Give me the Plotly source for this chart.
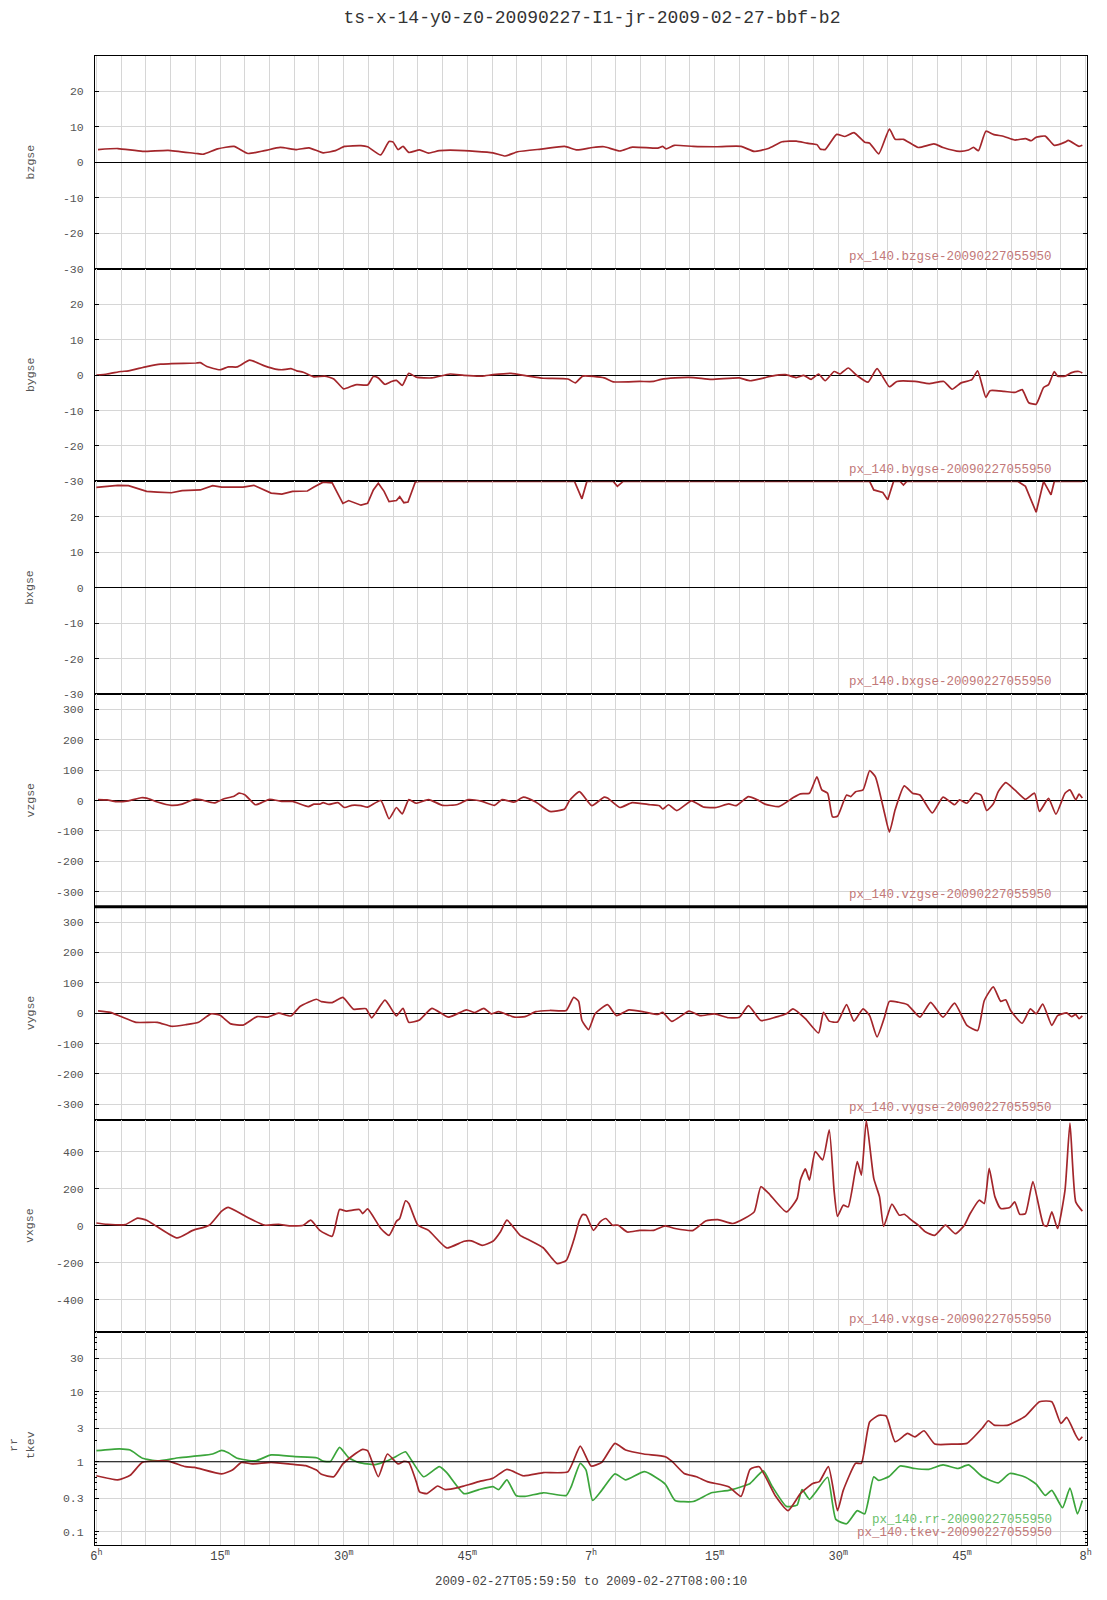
import pandas as pd
import plotly.graph_objects as go
from plotly.subplots import make_subplots

BASE = pd.Timestamp("2009-02-27 06:00:00")
X_START = "2009-02-27 05:59:50"
X_END = "2009-02-27 08:00:10"

# ---- data: time in minutes after 06:00 UT ----
bz_t = [0.2,2.6,5.6,8.7,12.1,13.0,14.7,16.7,18.4,20.4,22.3,24.3,25.8,27.5,29.0,30.1,32.1,32.9,34.5,35.5,
        36.0,36.6,37.2,37.9,39.2,40.3,41.6,43.8,48.1,49.6,51.1,54.2,
        56.8,58.3,60.2,61.6,63.5,65.0,68.1,68.7,69.1,70.1,72.4,75.0,78.2,79.8,81.5,83.2,84.9,86.2,87.4,87.8,
        88.4,89.8,90.8,91.9,93.2,93.8,94.9,96.2,96.9,97.9,99.7,101.6,102.7,104.7,105.8,106.4,107.0,107.9,108.8,110.1,
        111.4,112.7,113.4,114.0,115.1,116.2,117.5,117.9,119.2,119.6]
bz_v = [3.6,3.9,3.1,3.4,2.5,2.3,3.8,4.5,2.5,3.3,4.2,3.6,4.1,2.7,3.3,4.5,4.7,4.4,2.1,5.9,
        5.7,3.6,4.5,2.8,3.5,2.6,3.3,3.4,2.7,1.8,3.0,3.8,
        4.5,3.5,4.2,4.4,3.2,4.3,4.0,4.5,3.8,4.8,4.5,4.4,4.5,3.1,3.9,5.8,6.0,5.4,5.0,3.8,
        3.6,7.9,7.3,8.4,5.7,5.4,2.4,9.4,6.5,6.5,4.2,5.2,4.2,3.1,3.5,4.2,3.3,8.8,7.9,7.3,
        6.3,6.7,6.1,7.1,7.4,4.8,5.7,6.2,4.5,4.8]

by_t = [0,1.3,3.0,3.9,6.1,7.8,9.1,12.1,12.6,13.4,15.0,16.0,17.1,18.6,20.4,21.7,22.5,23.6,24.3,25.1,
        26.4,27.7,28.8,30.0,31.0,31.6,32.9,33.6,34.2,35.0,35.8,36.4,37.1,37.9,38.8,40.7,42.9,44.6,46.8,48.1,
        50.3,52.4,54.2,
        57.2,58.1,59.0,61.6,62.7,65.9,67.6,68.5,70.2,72.4,74.6,78.0,79.3,81.0,81.9,83.6,84.9,85.8,86.7,87.6,
        88.4,89.5,90.2,91.2,92.3,93.6,94.7,96.2,97.1,99.3,101.0,102.8,103.8,104.9,106.2,106.9,107.9,108.4,110.1,111.4,
        112.3,113.1,114.0,114.9,115.5,116.2,116.6,117.5,118.3,119.2,119.6]
by_v = [0,0.3,1.0,1.2,2.4,3.1,3.2,3.4,3.5,2.4,1.5,2.3,2.3,4.2,2.6,1.7,1.5,1.8,1.2,0.8,
        -0.5,-0.3,-1.1,-3.9,-3.1,-2.7,-2.8,-0.4,-0.8,-2.6,-1.8,-1.5,-2.9,0.5,-0.6,-0.8,0.3,-0.1,-0.3,0.1,
        0.5,-0.3,-0.9,
        -1.1,-2.2,-0.3,-0.8,-1.9,-1.8,-1.8,-1.2,-0.8,-0.7,-1.2,-0.8,-1.6,-0.8,-0.3,0.1,-0.7,-0.1,-1.2,0.3,
        -1.6,1.0,0.3,2.0,-0.2,-2.0,1.8,-3.3,-1.8,-1.8,-2.4,-1.8,-4.0,-2.2,-1.3,1.2,-6.3,-4.4,-4.6,-4.9,
        -4.1,-7.8,-8.2,-3.5,-2.7,1.0,-0.3,-0.3,0.7,1.0,0.6]

bx_t = [0,1.3,2.6,3.9,6.1,7.4,9.1,10.4,12.6,14.1,15.2,17.8,19.1,21.2,22.5,23.8,25.6,26.4,27.5,28.6,
        29.3,29.9,30.6,32.1,32.9,33.6,34.2,34.9,35.5,36.4,36.8,37.3,37.8,38.7,39.2,
        58.0,58.9,59.5,62.7,63.2,63.9,93.8,94.3,95.4,96.0,96.7,97.5,97.9,98.3,
        111.8,112.7,114.0,114.9,115.8,116.2,119.6]
bx_v = [28.3,28.6,28.9,28.8,27.2,27.0,26.8,27.4,27.6,28.8,28.4,28.4,28.9,26.7,26.4,27.2,27.3,28.4,29.8,29.6,
        26.7,23.8,24.6,23.3,23.8,27.6,29.5,27.2,24.3,24.6,25.7,24.0,24.2,29.9,30,
        30,25.1,30,30,28.6,30,30,27.6,26.9,24.8,30,30,29.0,30,
        30,28.6,21.3,30,26.2,30,30]

vz_t = [0.2,1.3,2.4,3.9,5.4,6.1,7.4,9.1,10.4,11.9,12.6,14.3,15.4,16.7,17.3,18.0,19.3,20.2,21.0,22.5,
        23.8,25.7,26.4,27.1,27.5,28.2,29.3,30.1,31.0,32.1,32.9,34.5,35.5,36.4,37.1,37.9,38.8,40.3,42.0,43.8,
        45.1,46.8,48.3,49.2,50.7,51.8,53.3,55.0,56.8,57.4,58.6,60.1,61.6,62.0,63.5,65.0,67.2,68.3,68.7,69.4,
        70.4,72.2,73.7,75.2,76.7,77.6,79.1,80.2,81.1,82.8,84.5,85.4,86.5,87.4,88.0,88.7,89.3,89.9,91.0,91.5,
        92.1,93.0,93.8,94.5,95.6,96.2,96.9,98.0,99.0,99.9,101.4,102.7,104.1,104.7,105.6,106.6,107.3,108.0,108.8,109.4,
        110.3,111.4,112.7,113.8,114.4,115.5,116.4,117.5,118.1,118.8,119.2,119.6]
vz_v = [3,2,-4,-1,9,8,-5,-16,-12,4,3,-8,5,14,24,19,-14,-5,4,-3,
        -3,-20,-12,-12,-7,-13,-7,-23,-16,-17,-22,0,-60,-23,-44,3,-9,3,-16,-13,
        3,-3,-16,3,-5,11,-5,-36,-28,0,29,-17,11,8,-23,-7,-14,-17,-28,-14,
        -33,-1,-22,-23,-11,-17,13,2,-12,-20,9,22,24,78,35,24,-54,-52,18,13,
        29,35,98,78,-41,-104,-30,48,24,18,-41,11,-14,2,-9,24,18,-33,-11,29,
        59,35,4,24,-36,7,-45,24,35,2,21,8]

vy_t = [0.2,1.7,3.0,4.8,7.4,9.1,10.8,12.4,13.9,15.0,16.3,17.8,19.5,20.8,22.1,23.6,24.7,26.7,27.3,28.6,
        29.9,31.2,32.7,33.4,35.0,36.0,36.4,37.2,37.9,39.2,40.7,42.7,44.9,45.9,47.0,47.9,48.8,50.7,52.0,53.3,
        55.0,
        57.0,57.9,58.5,58.9,59.7,60.5,62.0,63.1,64.6,66.5,68.1,68.7,69.8,71.9,73.2,75.0,76.7,78.0,79.1,80.6,
        82.4,83.7,84.5,86.0,87.6,88.2,88.9,89.9,91.0,91.9,93.0,93.8,94.7,95.6,96.2,97.3,98.4,99.9,101.2,102.7,
        104.1,105.6,106.9,107.7,108.8,109.7,110.3,110.9,112.3,113.3,114.0,114.8,115.9,116.6,117.7,118.3,118.8,119.2,119.6]
vy_v = [8,3,-11,-30,-30,-43,-38,-30,-2,-7,-35,-39,-11,-13,0,-9,22,46,38,35,
        52,13,15,-15,43,5,-9,16,-30,-22,16,-13,11,2,16,-2,5,-13,-11,5,
        9,
        9,52,39,-24,-54,-2,28,-8,11,4,-4,3,-27,7,-8,-2,-15,-13,25,-24,
        -13,-2,14,-18,-65,3,-26,-29,28,-26,14,-8,-78,-13,39,36,28,-13,36,-13,
        33,-40,-57,41,87,39,44,9,-33,14,-2,30,-40,-8,1,-11,-4,-18,-9]

vx_t = [0,1.3,3.5,5.0,6.1,7.4,9.8,11.7,13.7,15.2,16.0,18.2,20.4,22.1,23.4,25.1,26.0,27.1,28.6,29.5,
        30.3,31.9,32.3,32.9,34.5,35.5,36.4,36.8,37.5,37.9,39.0,40.3,42.5,44.6,45.5,46.8,48.1,49.0,49.8,51.4,
        52.4,54.2,55.3,55.9,57.0,
        57.9,58.6,59.0,59.4,60.3,61.1,61.8,62.6,63.3,64.4,65.9,67.6,69.0,70.2,72.4,73.9,75.4,77.2,78.6,79.8,
        80.6,81.5,83.7,85.0,85.4,86.0,86.5,87.2,88.1,88.9,89.5,89.9,90.6,91.2,92.3,92.8,93.4,94.3,95.0,95.5,
        96.5,97.4,98.0,98.8,99.7,100.6,101.7,103.0,104.2,105.3,106.0,107.1,107.7,108.3,109.0,109.7,110.8,111.4,112.0,112.7,
        113.6,114.9,115.3,115.9,116.6,117.5,118.1,118.8,119.6]
vx_v = [16,9,7,42,31,-5,-65,-24,4,80,100,49,4,9,0,4,31,-24,-56,89,
        80,89,67,92,-14,-51,25,40,136,121,4,-24,-119,-83,-81,-105,-83,-33,31,-51,
        -74,-118,-177,-204,-186,
        -78,31,62,58,-24,22,40,4,4,-33,-24,-24,0,-14,-24,27,34,13,40,76,
        212,179,76,148,248,308,248,402,357,519,185,52,112,103,348,275,570,257,157,-2,
        118,58,63,34,4,-33,-51,4,-42,4,67,139,121,311,157,94,100,130,63,67,
        239,4,-2,76,-14,194,556,130,80]

tkev_t = [0,2.6,4.1,5.6,8.7,10.8,11.9,15.2,16.5,17.6,18.9,21.2,24.1,25.4,26.7,27.3,28.8,29.9,31.0,32.3,
          32.9,34.2,35.3,36.6,37.3,37.9,38.8,39.2,40.1,41.4,42.3,44.0,44.6,46.4,48.1,49.8,51.8,54.2,
          57.2,58.7,60.0,61.3,62.9,64.2,66.4,69.0,69.8,71.3,72.8,74.1,76.7,78.2,79.3,80.4,82.4,83.9,85.4,86.9,
          87.7,88.8,89.9,90.6,92.1,92.8,93.8,94.9,95.8,96.9,98.4,99.3,100.4,101.7,104.1,105.6,107.5,108.2,108.9,110.6,
          112.7,114.4,115.9,117.0,117.7,118.8,119.2,119.6]
tkev_v = [0.63,0.55,0.64,0.98,1.02,0.85,0.83,0.67,0.76,0.98,0.93,0.98,0.91,0.88,0.76,0.66,0.61,0.93,1.2,1.5,
          1.44,0.61,1.29,0.93,1.01,0.98,0.52,0.37,0.35,0.45,0.40,0.43,0.45,0.52,0.58,0.78,0.63,0.70,
          0.72,1.67,0.87,0.98,1.83,1.47,1.29,1.18,1.02,0.68,0.61,0.52,0.44,0.32,0.78,0.85,0.32,0.20,0.35,0.49,
          0.52,0.85,0.20,0.39,0.95,0.95,3.7,4.6,4.5,1.93,2.54,2.27,2.77,1.79,1.79,1.83,3.06,3.85,3.34,3.34,
          4.49,7.2,7.2,3.53,4.3,2.4,2.04,2.27]

rr_t = [0,2.8,4.1,5.6,7.4,10.0,12.6,14.1,15.2,16.0,17.1,19.3,21.2,24.1,26.8,27.5,28.4,29.5,30.6,31.9,
        33.8,35.3,36.4,37.5,38.2,39.7,41.6,42.5,44.6,46.4,48.1,48.8,49.8,50.9,52.0,54.2,
        57.0,57.6,58.7,59.4,60.2,61.3,62.9,64.2,66.5,69.0,70.2,72.4,74.6,76.7,78.5,79.3,80.9,82.0,83.7,85.0,
        85.6,86.5,87.2,88.7,89.7,91.0,92.3,93.2,94.3,94.9,96.2,97.5,99.3,101.0,102.7,104.5,105.8,107.5,109.4,110.8,
        112.7,114.0,115.1,115.9,117.2,118.1,119.0,119.6]
rr_v = [1.44,1.53,1.47,1.12,1.03,1.14,1.22,1.29,1.45,1.34,1.12,1.03,1.25,1.18,1.13,1.02,1.01,1.6,1.14,0.97,
        0.91,1.03,1.2,1.39,1.06,0.61,0.85,0.70,0.35,0.40,0.44,0.40,0.55,0.33,0.32,0.36,
        0.33,0.44,0.95,0.76,0.28,0.39,0.67,0.55,0.72,0.48,0.28,0.27,0.36,0.39,0.45,0.49,0.74,0.44,0.23,0.24,
        0.40,0.29,0.36,0.60,0.15,0.13,0.20,0.18,0.61,0.54,0.62,0.87,0.80,0.78,0.90,0.80,0.90,0.61,0.50,0.68,
        0.60,0.48,0.33,0.39,0.22,0.42,0.18,0.28]

panel_names = ["bzgse", "bygse", "bxgse", "vzgse", "vygse", "vxgse", "rr/tkev"]
label_tag = "-20090227055950"

# axis ticks
grid_minutes = list(range(0, 121, 3))
label_minutes = [0, 15, 30, 45, 60, 75, 90, 105, 120]
label_texts = ["6<sup>h</sup>", "15<sup>m</sup>", "30<sup>m</sup>", "45<sup>m</sup>", "7<sup>h</sup>",
               "15<sup>m</sup>", "30<sup>m</sup>", "45<sup>m</sup>", "8<sup>h</sup>"]
frame_tick_minutes = [9, 12, 24, 36, 39, 48, 51, 60, 63, 72, 75, 84, 87, 99, 111, 114]

for a, b in [(bz_t, bz_v), (by_t, by_v), (bx_t, bx_v), (vz_t, vz_v), (vy_t, vy_v),
             (vx_t, vx_v), (tkev_t, tkev_v), (rr_t, rr_v)]:
    assert len(a) == len(b), (len(a), len(b))


def T(mins):
    return [BASE + pd.Timedelta(seconds=int(round(float(m) * 60))) for m in mins]


RED = "#a3262b"
GREEN = "#3ba53b"
GRID = "#d6d6d6"
TXT = "#555555"
MONO = "Liberation Mono, Courier New, monospace"

# the page body adds an 8 px offset, so the figure is 16 px smaller than the window
FIG_W, FIG_H = 1091, 1584

fig = make_subplots(rows=7, cols=1, shared_xaxes=True, vertical_spacing=0)

series = [
    (1, bz_t, bz_v, RED, "spline"),
    (2, by_t, by_v, RED, "spline"),
    (3, bx_t, bx_v, RED, "linear"),
    (4, vz_t, vz_v, RED, "spline"),
    (5, vy_t, vy_v, RED, "spline"),
    (6, vx_t, vx_v, RED, "spline"),
    (7, rr_t, rr_v, GREEN, "spline"),
    (7, tkev_t, tkev_v, RED, "spline"),
]
for row, t, v, col, shp in series:
    line = dict(color=col, width=1.7, shape=shp)
    if shp == "spline":
        line["smoothing"] = 0.5
    fig.add_trace(go.Scatter(x=T(t), y=v, mode="lines", line=line,
                             showlegend=False, hoverinfo="skip"), row=row, col=1)

grid_vals = T(grid_minutes)
lab_map = dict(zip(label_minutes, label_texts))
grid_text = [lab_map.get(m, "") for m in grid_minutes]

for r in range(1, 8):
    fig.update_xaxes(row=r, col=1, range=[X_START, X_END], type="date",
                     tickmode="array", tickvals=grid_vals, ticktext=grid_text,
                     showgrid=True, gridcolor=GRID, gridwidth=1, ticks="",
                     showline=True, linecolor="black", linewidth=1, mirror=True,
                     zeroline=False, showticklabels=(r == 7), automargin=False,
                     tickfont=dict(family=MONO, size=12, color="#444"))

lin_ranges = {1: [-30, 30], 2: [-30, 30], 3: [-30, 30], 4: [-350, 350], 5: [-350, 350], 6: [-575, 575]}
lin_ticks = {1: [-30, -20, -10, 0, 10, 20], 2: [-30, -20, -10, 0, 10, 20], 3: [-30, -20, -10, 0, 10, 20],
             4: [-300, -200, -100, 0, 100, 200, 300], 5: [-300, -200, -100, 0, 100, 200, 300],
             6: [-400, -200, 0, 200, 400]}
for r in range(1, 7):
    fig.update_yaxes(row=r, col=1, range=lin_ranges[r], tickmode="array", tickvals=lin_ticks[r],
                     ticktext=[str(v) for v in lin_ticks[r]],
                     showgrid=True, gridcolor=GRID, zeroline=True, zerolinecolor="black", zerolinewidth=1.2,
                     showline=True, linecolor="black", linewidth=1, mirror="ticks", automargin=False,
                     ticks="inside", ticklen=4, tickcolor="black", ticklabelstandoff=8,
                     tickfont=dict(family=MONO, size=11.5, color=TXT))

LOG_RANGE = [-1.19, 1.85]
log_ticks = [0.1, 0.3, 1, 3, 10, 30]
log_minor = [0.07, 0.08, 0.09, 0.2, 0.4, 0.5, 0.6, 0.7, 0.8, 0.9, 2, 4, 5, 6, 7, 8, 9, 20, 40, 50, 60, 70]
fig.update_yaxes(row=7, col=1, type="log", range=LOG_RANGE, tickmode="array", tickvals=log_ticks,
                 ticktext=["0.1", "0.3", "1", "3", "10", "30"],
                 showgrid=True, gridcolor=GRID, zeroline=False, automargin=False,
                 showline=True, linecolor="black", linewidth=1, mirror="ticks",
                 ticks="inside", ticklen=4, tickcolor="black", ticklabelstandoff=8,
                 minor=dict(tickmode="array", tickvals=log_minor, ticks="inside", ticklen=2,
                            tickcolor="black", showgrid=False),
                 tickfont=dict(family=MONO, size=11.5, color=TXT))

# irregular frame ticks on top and bottom of the stack
fig.update_layout(
    xaxis8=dict(overlaying="x7", anchor="y7", side="bottom", type="date", range=[X_START, X_END],
                tickmode="array", tickvals=T(frame_tick_minutes), ticks="inside", ticklen=6,
                tickcolor="black", showticklabels=False, showgrid=False, zeroline=False, showline=False,
                automargin=False),
    xaxis9=dict(overlaying="x", anchor="y", side="top", type="date", range=[X_START, X_END],
                tickmode="array", tickvals=T(frame_tick_minutes), ticks="inside", ticklen=6,
                tickcolor="black", showticklabels=False, showgrid=False, zeroline=False, showline=False,
                automargin=False),
)

shapes = []
# line at 1 in the log panel
frac1 = -LOG_RANGE[0] / (LOG_RANGE[1] - LOG_RANGE[0])
shapes.append(dict(type="line", xref="x7 domain", yref="y7 domain", x0=0, x1=1, y0=frac1, y1=frac1,
                   line=dict(color="black", width=1.2), layer="above"))
# thick separator between vzgse and vygse panels
shapes.append(dict(type="line", xref="paper", yref="paper", x0=0, x1=1, y0=3 / 7, y1=3 / 7,
                   line=dict(color="black", width=3)))

annotations = []
yref_names = ["y", "y2", "y3", "y4", "y5", "y6", "y7"]
for i, name in enumerate(panel_names[:6]):
    annotations.append(dict(text=name, textangle=-90, xref="paper", x=-0.0655, xanchor="center",
                            yref=yref_names[i] + " domain", y=0.5, yanchor="middle", showarrow=False,
                            font=dict(family=MONO, size=11.5, color=TXT)))
    annotations.append(dict(text="px_140." + name + label_tag, xref="paper", x=0.9667, xanchor="right",
                            yref=yref_names[i] + " domain", y=0.056, yanchor="middle", showarrow=False,
                            font=dict(family=MONO, size=12.5, color="#c27878")))
annotations.append(dict(text="rr", textangle=-90, xref="paper", x=-0.083, xanchor="center",
                        yref="y7 domain", y=0.47, yanchor="middle", showarrow=False,
                        font=dict(family=MONO, size=11.5, color=TXT)))
annotations.append(dict(text="tkev", textangle=-90, xref="paper", x=-0.0655, xanchor="center",
                        yref="y7 domain", y=0.47, yanchor="middle", showarrow=False,
                        font=dict(family=MONO, size=11.5, color=TXT)))
annotations.append(dict(text="px_140.rr" + label_tag, xref="paper", x=0.9667, xanchor="right",
                        yref="y7 domain", y=0.117, yanchor="middle", showarrow=False,
                        font=dict(family=MONO, size=12.5, color="#6cbf6c")))
annotations.append(dict(text="px_140.tkev" + label_tag, xref="paper", x=0.9667, xanchor="right",
                        yref="y7 domain", y=0.056, yanchor="middle", showarrow=False,
                        font=dict(family=MONO, size=12.5, color="#c27878")))
annotations.append(dict(text="2009-02-27T05:59:50 to 2009-02-27T08:00:10", xref="paper", x=0.5,
                        xanchor="center", yref="paper", y=-37 / 1489, yanchor="middle", showarrow=False,
                        font=dict(family=MONO, size=12.4, color="#444")))

fig.update_layout(
    width=FIG_W, height=FIG_H,
    margin=dict(l=87, r=12, t=48, b=47),
    paper_bgcolor="white", plot_bgcolor="white",
    title=dict(text="ts-x-14-y0-z0-20090227-I1-jr-2009-02-27-bbf-b2", x=584 / FIG_W, xanchor="center",
               y=1 - 9 / FIG_H, yanchor="middle", font=dict(family=MONO, size=18, color="#333")),
    shapes=shapes, annotations=annotations, showlegend=False,
)

fig.write_html("out.html")
